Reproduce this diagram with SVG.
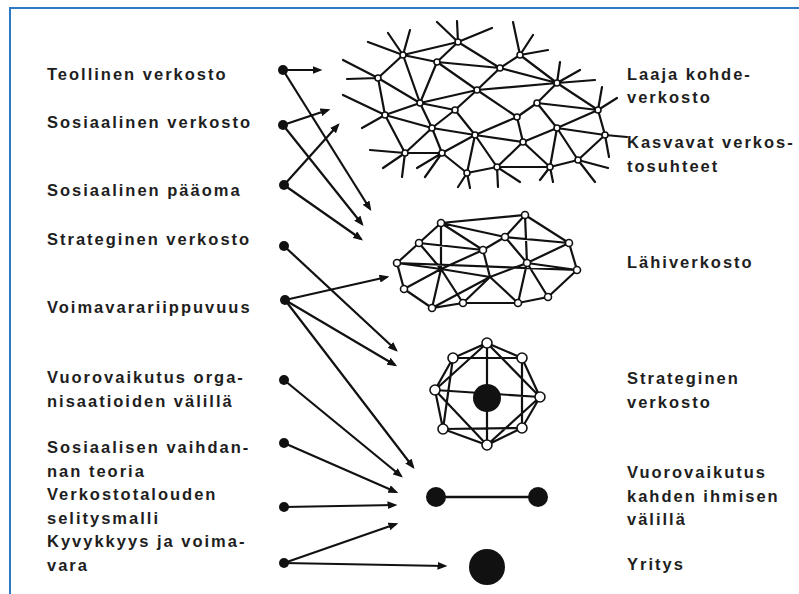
<svg xmlns="http://www.w3.org/2000/svg" width="799" height="594" viewBox="0 0 799 594">
<defs>
<marker id="ah" viewBox="0 0 10 8" refX="7.5" refY="4" markerWidth="10" markerHeight="8" markerUnits="userSpaceOnUse" orient="auto">
<path d="M0,0 L10,4 L0,8 z" fill="#111"/>
</marker>
</defs>
<style>
.lbl{font-family:"Liberation Sans",Arial,sans-serif;font-weight:bold;font-size:16.5px;letter-spacing:2px;fill:#1e1e1e}
.arr{stroke:#111;stroke-width:2.2;fill:none;marker-end:url(#ah)}
.dot{fill:#111}
.net{stroke:#111;stroke-width:2.2;fill:none;stroke-linecap:round}
.sn{fill:#fff;stroke:#111;stroke-width:1.6}
</style>
<rect x="0" y="0" width="799" height="594" fill="#fff"/>
<path d="M10,594 L10,8 L799,8" fill="none" stroke="#2f78c4" stroke-width="2"/>

<g id="label-teollinen"><text class="lbl" x="47" y="80">Teollinen verkosto</text></g>
<g id="label-sosiaalinen-verkosto"><text class="lbl" x="47" y="128">Sosiaalinen verkosto</text></g>
<g id="label-sosiaalinen-paaoma"><text class="lbl" x="47" y="196">Sosiaalinen pääoma</text></g>
<g id="label-strateginen-verkosto"><text class="lbl" x="47" y="245">Strateginen verkosto</text></g>
<g id="label-voimavarariippuvuus"><text class="lbl" x="47" y="313">Voimavarariippuvuus</text></g>
<g id="label-vuorovaikutus-org"><text class="lbl" x="47" y="383">Vuorovaikutus orga-</text><text class="lbl" x="47" y="407">nisaatioiden välillä</text></g>
<g id="label-sosiaalisen-vaihdannan"><text class="lbl" x="47" y="453">Sosiaalisen vaihdan-</text><text class="lbl" x="47" y="477">nan teoria</text></g>
<g id="label-verkostotalouden"><text class="lbl" x="47" y="500">Verkostotalouden</text><text class="lbl" x="47" y="524">selitysmalli</text></g>
<g id="label-kyvykkyys"><text class="lbl" x="47" y="547">Kyvykkyys ja voima-</text><text class="lbl" x="47" y="571">vara</text></g>

<g id="label-laaja"><text class="lbl" x="627" y="80">Laaja kohde-</text><text class="lbl" x="627" y="103">verkosto</text></g>
<g id="label-kasvavat"><text class="lbl" x="627" y="148">Kasvavat verkos-</text><text class="lbl" x="627" y="172">tosuhteet</text></g>
<g id="label-lahiverkosto"><text class="lbl" x="627" y="268">Lähiverkosto</text></g>
<g id="label-strateginen"><text class="lbl" x="627" y="384">Strateginen</text><text class="lbl" x="627" y="408">verkosto</text></g>
<g id="label-vuorovaikutus-kahden"><text class="lbl" x="627" y="478">Vuorovaikutus</text><text class="lbl" x="627" y="502">kahden ihmisen</text><text class="lbl" x="627" y="525">välillä</text></g>
<g id="label-yritys"><text class="lbl" x="627" y="570">Yritys</text></g>

<g id="network-laaja">
<path class="net" d="M378,78 L403,55 M403,55 L437,62 M437,62 L458,42 M403,55 L458,42 M458,42 L500,68 M500,68 L520,55 M437,62 L500,68 M520,55 L557,83 M500,68 L557,83 M500,68 L477,90 M437,62 L477,90 M437,62 L420,103 M403,55 L420,103 M378,78 L420,103 M378,78 L385,115 M385,115 L420,103 M420,103 L477,90 M477,90 L455,110 M420,103 L455,110 M477,90 L517,117 M477,90 L557,83 M557,83 L537,103 M557,83 L598,110 M537,103 L598,110 M537,103 L517,117 M537,103 L557,128 M598,110 L557,128 M598,110 L605,135 M557,128 L605,135 M517,117 L523,142 M517,117 L475,135 M455,110 L475,135 M455,110 L432,128 M420,103 L432,128 M385,115 L432,128 M385,115 L405,153 M432,128 L405,153 M432,128 L442,153 M432,128 L475,135 M475,135 L442,153 M475,135 L467,173 M475,135 L497,167 M475,135 L523,142 M523,142 L497,167 M523,142 L550,167 M523,142 L557,128 M557,128 L578,160 M605,135 L578,160 M578,160 L550,167 M550,167 L497,167 M497,167 L467,173 M467,173 L442,153 M442,153 L405,153 M557,128 L550,167"/>
<path class="net" d="M458,42 L437,22 M458,42 L457,21 M458,42 L492,28 M520,55 L513,22 M520,55 L533,35 M520,55 L548,50 M557,83 L560,62 M557,83 L595,80 M557,83 L580,70 M598,110 L617,98 M598,110 L602,87 M605,135 L627,137 M605,135 L609,157 M578,160 L595,182 M578,160 L608,168 M550,167 L553,182 M550,167 L540,180 M497,167 L498,187 M497,167 L520,182 M467,173 L458,187 M467,173 L470,188 M405,153 L370,150 M405,153 L383,168 M405,153 L402,177 M385,115 L343,95 M385,115 L362,128 M378,78 L343,60 M378,78 L347,79 M403,55 L368,42 M403,55 L388,33 M403,55 L410,30 M442,153 L417,168 M442,153 L425,177"/>
<g class="sn">
<circle cx="458" cy="42" r="3"/><circle cx="520" cy="55" r="3"/><circle cx="403" cy="55" r="3"/><circle cx="437" cy="62" r="3"/><circle cx="500" cy="68" r="3"/><circle cx="378" cy="78" r="3"/><circle cx="557" cy="83" r="3"/><circle cx="477" cy="90" r="3"/><circle cx="420" cy="103" r="3"/><circle cx="537" cy="103" r="3"/><circle cx="455" cy="110" r="3"/><circle cx="598" cy="110" r="3"/><circle cx="385" cy="115" r="3"/><circle cx="517" cy="117" r="3"/><circle cx="557" cy="128" r="3"/><circle cx="432" cy="128" r="3"/><circle cx="475" cy="135" r="3"/><circle cx="605" cy="135" r="3"/><circle cx="523" cy="142" r="3"/><circle cx="405" cy="153" r="3"/><circle cx="442" cy="153" r="3"/><circle cx="578" cy="160" r="3"/><circle cx="497" cy="167" r="3"/><circle cx="550" cy="167" r="3"/><circle cx="467" cy="173" r="3"/>
</g>
</g>

<g id="network-lahi">
<path class="net" d="M397,263 L419,243 L441,223 L525,215 L569,243 L577,270 L548,297 L518,303 L463,303 L432,308 L404,289 Z M397,263 L441,269 M419,243 L441,269 M441,223 L441,269 M404,289 L441,269 M432,308 L441,269 M463,303 L441,269 M441,223 L505,237 M441,223 L483,250 M441,269 L483,250 M419,243 L483,250 M483,250 L505,237 M505,237 L525,215 M525,215 L527,263 M505,237 L527,263 M505,237 L569,243 M527,263 L569,243 M527,263 L577,270 M527,263 L548,297 M527,263 L518,303 M527,263 L490,277 M483,250 L490,277 M490,277 L463,303 M490,277 L518,303 M490,277 L432,308 M397,263 L577,270 M441,269 L490,277"/>
<g class="sn">
<circle cx="397" cy="263" r="3.5"/><circle cx="419" cy="243" r="3.5"/><circle cx="441" cy="223" r="3.5"/><circle cx="525" cy="215" r="3.5"/><circle cx="505" cy="237" r="3.5"/><circle cx="569" cy="243" r="3.5"/><circle cx="577" cy="270" r="3.5"/><circle cx="548" cy="297" r="3.5"/><circle cx="518" cy="303" r="3.5"/><circle cx="463" cy="303" r="3.5"/><circle cx="432" cy="308" r="3.5"/><circle cx="404" cy="289" r="3.5"/><circle cx="483" cy="250" r="3.5"/><circle cx="527" cy="263" r="3.5"/>
</g>
</g>

<g id="network-strateginen">
<path class="net" d="M487,343 L522,358 L540,397 L522,428 L487,445 L443,429 L435,390 L453,358 Z M487,343 L487,445 M435,390 L540,397 M487,343 L540,397 M522,358 L522,428 M540,397 L487,445 M522,428 L443,429 M487,445 L435,390 M443,429 L453,358 M435,390 L487,343 M453,358 L522,358"/>
<circle cx="487" cy="398" r="14" fill="#111"/>
<g class="sn">
<circle cx="487" cy="343" r="5"/><circle cx="522" cy="358" r="5"/><circle cx="540" cy="397" r="5"/><circle cx="522" cy="428" r="5"/><circle cx="487" cy="445" r="5"/><circle cx="443" cy="429" r="5"/><circle cx="435" cy="390" r="5"/><circle cx="453" cy="358" r="5"/>
</g>
</g>

<g id="network-kahden">
<line x1="436" y1="497" x2="538" y2="497" stroke="#111" stroke-width="2.5"/>
<circle cx="436" cy="497" r="10" fill="#111"/>
<circle cx="538" cy="497" r="10" fill="#111"/>
</g>

<g id="network-yritys">
<circle cx="487" cy="567" r="18" fill="#111"/>
</g>

<g id="connectors">
<path class="arr" d="M283,70 L320,70"/>
<path class="arr" d="M283,70 L370,209"/>
<path class="arr" d="M283,125 L328,110"/>
<path class="arr" d="M283,125 L362,224"/>
<path class="arr" d="M284,185 L338,125"/>
<path class="arr" d="M284,185 L361,239"/>
<path class="arr" d="M284,246 L396,350"/>
<path class="arr" d="M285,300 L387,277"/>
<path class="arr" d="M285,300 L395,365"/>
<path class="arr" d="M285,300 L413,467"/>
<path class="arr" d="M284,380 L401,476"/>
<path class="arr" d="M284,443 L396,492"/>
<path class="arr" d="M284,507 L395,505"/>
<path class="arr" d="M284,563 L396,524"/>
<path class="arr" d="M284,563 L445,566"/>
<g class="dot">
<circle cx="283" cy="70" r="5"/><circle cx="283" cy="125" r="5"/><circle cx="284" cy="185" r="5"/><circle cx="284" cy="246" r="5"/><circle cx="285" cy="300" r="5"/><circle cx="284" cy="380" r="5"/><circle cx="284" cy="443" r="5"/><circle cx="284" cy="507" r="5"/><circle cx="284" cy="563" r="5"/>
</g>
</g>
</svg>
